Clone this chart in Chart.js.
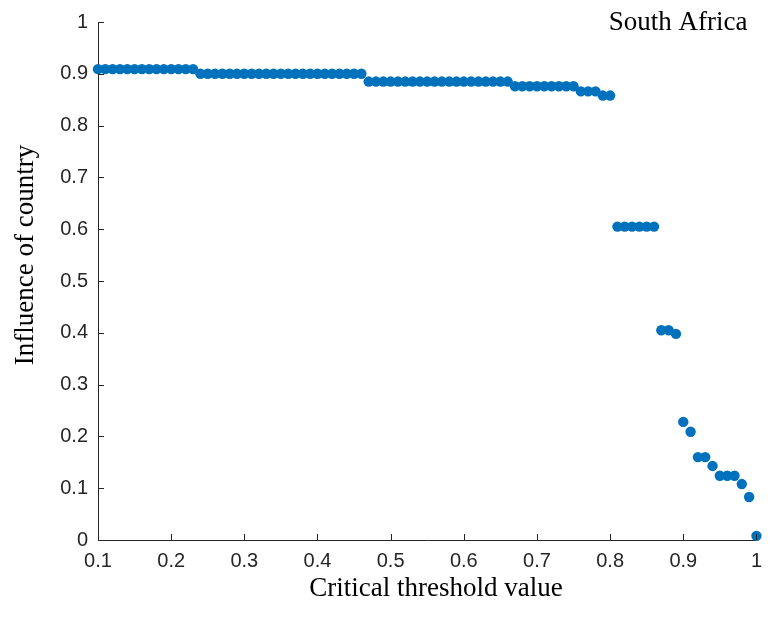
<!DOCTYPE html>
<html>
<head>
<meta charset="utf-8">
<script src="https://cdn.jsdelivr.net/npm/chart.js@4"></script>
<style>
  html, body { margin: 0; padding: 0; background: #ffffff; }
  #wrap { width: 771px; height: 623px; }
</style>
</head>
<body>
<div id="wrap"><canvas id="chart" width="771" height="623"></canvas></div>
<script>
// Critical threshold values (x) and the resulting influence of the country (y)
const thresholds = [
  0.10, 0.11, 0.12, 0.13, 0.14, 0.15, 0.16, 0.17, 0.18, 0.19,
  0.20, 0.21, 0.22, 0.23, 0.24, 0.25, 0.26, 0.27, 0.28, 0.29,
  0.30, 0.31, 0.32, 0.33, 0.34, 0.35, 0.36, 0.37, 0.38, 0.39,
  0.40, 0.41, 0.42, 0.43, 0.44, 0.45, 0.46, 0.47, 0.48, 0.49,
  0.50, 0.51, 0.52, 0.53, 0.54, 0.55, 0.56, 0.57, 0.58, 0.59,
  0.60, 0.61, 0.62, 0.63, 0.64, 0.65, 0.66, 0.67, 0.68, 0.69,
  0.70, 0.71, 0.72, 0.73, 0.74, 0.75, 0.76, 0.77, 0.78, 0.79,
  0.80, 0.81, 0.82, 0.83, 0.84, 0.85, 0.86, 0.87, 0.88, 0.89,
  0.90, 0.91, 0.92, 0.93, 0.94, 0.95, 0.96, 0.97, 0.98, 0.99,
  1.00
];
const influence = [
  0.909, 0.909, 0.909, 0.909, 0.909, 0.909, 0.909, 0.909, 0.909, 0.909,
  0.909, 0.909, 0.909, 0.909, 0.900, 0.900, 0.900, 0.900, 0.900, 0.900,
  0.900, 0.900, 0.900, 0.900, 0.900, 0.900, 0.900, 0.900, 0.900, 0.900,
  0.900, 0.900, 0.900, 0.900, 0.900, 0.900, 0.900, 0.885, 0.885, 0.885,
  0.885, 0.885, 0.885, 0.885, 0.885, 0.885, 0.885, 0.885, 0.885, 0.885,
  0.885, 0.885, 0.885, 0.885, 0.885, 0.885, 0.885, 0.876, 0.876, 0.876,
  0.876, 0.876, 0.876, 0.876, 0.876, 0.876, 0.866, 0.866, 0.866, 0.858,
  0.858, 0.605, 0.605, 0.605, 0.605, 0.605, 0.605, 0.405, 0.405, 0.398,
  0.228, 0.209, 0.160, 0.160, 0.143, 0.124, 0.124, 0.124, 0.108, 0.083,
  0.008
];
const xTickValues = [0.1, 0.2, 0.3, 0.4, 0.5, 0.6, 0.7, 0.8, 0.9, 1];
const xTickLabels = ['0.1', '0.2', '0.3', '0.4', '0.5', '0.6', '0.7', '0.8', '0.9', '1'];
const yTickValues = [0, 0.1, 0.2, 0.3, 0.4, 0.5, 0.6, 0.7, 0.8, 0.9, 1];
const yTickLabels = ['0', '0.1', '0.2', '0.3', '0.4', '0.5', '0.6', '0.7', '0.8', '0.9', '1'];
const countryName = 'South Africa';
const xTitle = 'Critical threshold value';
const yTitle = 'Influence of country';

const points = thresholds.map((t, i) => ({ x: t, y: influence[i] }));

const AXIS_COLOR = '#262626';
const SERIF = '"Liberation Serif", "Times New Roman", serif';
const SANS = '"Liberation Sans", Arial, sans-serif';

// Inward-pointing tick marks plus the axis titles and country label
const decorations = {
  id: 'decorations',
  afterDraw(chart) {
    const { ctx, chartArea, scales } = chart;
    const xs = scales.x, ys = scales.y;
    ctx.save();
    ctx.strokeStyle = AXIS_COLOR;
    ctx.lineWidth = 1;
    ctx.beginPath();
    xTickValues.forEach(v => {
      const px = Math.round(xs.getPixelForValue(v)) + 0.5;
      ctx.moveTo(px, chartArea.bottom);
      ctx.lineTo(px, chartArea.bottom - 6);
    });
    yTickValues.forEach(v => {
      const py = Math.round(ys.getPixelForValue(v)) + 0.5;
      ctx.moveTo(chartArea.left, py);
      ctx.lineTo(chartArea.left + 6, py);
    });
    ctx.stroke();

    ctx.fillStyle = '#000000';
    ctx.font = '27px ' + SERIF;
    ctx.textAlign = 'center';
    ctx.textBaseline = 'middle';
    ctx.fillText(xTitle, 436, 589);

    ctx.save();
    ctx.translate(26, 255);
    ctx.rotate(-Math.PI / 2);
    ctx.fillText(yTitle, 0, 0);
    ctx.restore();

    ctx.font = '27px ' + SERIF;
    ctx.fillText(countryName, 678, 23);
    ctx.restore();
  }
};

new Chart(document.getElementById('chart'), {
  type: 'scatter',
  data: {
    datasets: [{
      data: points,
      backgroundColor: '#0072BD',
      borderWidth: 0,
      pointRadius: 5.2,
      pointHoverRadius: 5.2,
      clip: false
    }]
  },
  options: {
    responsive: false,
    animation: false,
    events: [],
    layout: { padding: { top: 19, right: 9, left: 0, bottom: 0 } },
    plugins: {
      legend: { display: false },
      tooltip: { enabled: false }
    },
    scales: {
      x: {
        type: 'linear',
        min: 0.1,
        max: 1,
        afterBuildTicks: s => { s.ticks = xTickValues.map(v => ({ value: v })); },
        afterFit: s => { s.height = 83; },
        grid: { display: false, drawTicks: false },
        border: { display: true, color: AXIS_COLOR, width: 1 },
        ticks: {
          padding: 9,
          color: AXIS_COLOR,
          font: { family: SANS, size: 20 },
          maxRotation: 0,
          autoSkip: false,
          callback: v => xTickLabels[xTickValues.findIndex(t => Math.abs(t - v) < 1e-9)]
        }
      },
      y: {
        type: 'linear',
        min: 0,
        max: 1,
        afterBuildTicks: s => { s.ticks = yTickValues.map(v => ({ value: v })); },
        afterFit: s => { s.width = 98; },
        grid: { display: false, drawTicks: false },
        border: { display: true, color: AXIS_COLOR, width: 1 },
        ticks: {
          padding: 10,
          color: AXIS_COLOR,
          font: { family: SANS, size: 20 },
          autoSkip: false,
          callback: v => yTickLabels[yTickValues.findIndex(t => Math.abs(t - v) < 1e-9)]
        }
      }
    }
  },
  plugins: [decorations]
});
</script>
</body>
</html>
